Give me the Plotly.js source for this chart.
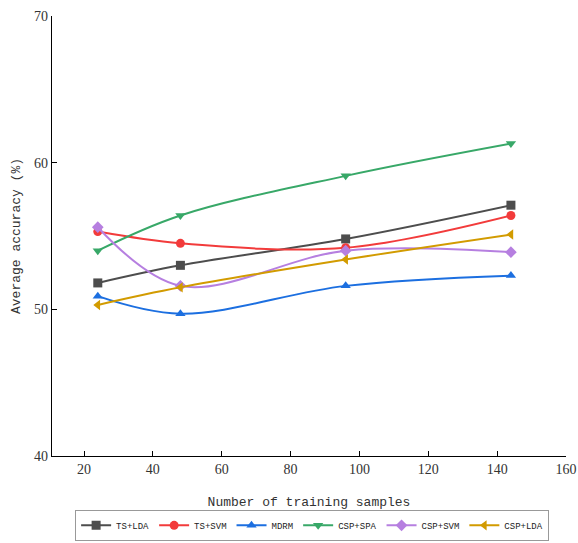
<!DOCTYPE html>
<html><head><meta charset="utf-8">
<script src="https://cdn.plot.ly/plotly-3.0.1.min.js"></script>
<style>body{margin:0;background:#fff}#c{width:578px;height:543px}</style>
</head><body><div id="c"></div>
<script>
var samples = [24, 48, 96, 144];
var tsLda  = [51.8, 53.0, 54.8, 57.1];
var tsSvm  = [55.3, 54.5, 54.2, 56.4];
var mdrm   = [50.9, 49.7, 51.6, 52.3];
var cspSpa = [54.0, 56.4, 59.1, 61.3];
var cspSvm = [55.6, 51.6, 54.0, 53.9];
var cspLda = [50.3, 51.5, 53.4, 55.1];
var names = ['TS+LDA','TS+SVM','MDRM','CSP+SPA','CSP+SVM','CSP+LDA'];
var series = [tsLda, tsSvm, mdrm, cspSpa, cspSvm, cspLda];
var colors = ['#4d4d4d','#f23b3b','#1c6fe0','#38a868','#b67fe0','#d29b00'];
var symbols = ['square','circle','triangle-up','triangle-down','diamond','triangle-left'];
var FM = 'Liberation Mono, Courier New, monospace';
var FS = 'Liberation Serif, Times New Roman, serif';
var traces = series.map(function(s,i){
  return {x: samples, y: s, name: names[i], type:'scatter', mode:'lines+markers',
    line:{color:colors[i], width:2, shape:'spline', smoothing:1},
    marker:{color:colors[i], symbol:symbols[i], size:9}};
});
var layout = {
  width:578, height:543, margin:{l:52, r:12, t:16, b:87},
  paper_bgcolor:'#fff', plot_bgcolor:'#fff',
  font:{family:FM, size:12, color:'#222'},
  showlegend:true,
  xaxis:{range:[10.7,160], tickvals:[20,40,60,80,100,120,140,160], ticks:'inside', ticklen:5,
    automargin:false,
    showgrid:false, zeroline:false, showline:true, linecolor:'#000', linewidth:1.3, tickcolor:'#000',
    tickfont:{family:FS, size:14, color:'#333'},
    title:{text:'Number of training samples', font:{family:FM, size:13, color:'#333'}, standoff:22}},
  yaxis:{range:[40,70], tickvals:[40,50,60,70], ticks:'inside', ticklen:5,
    automargin:false,
    showgrid:false, zeroline:false, showline:true, linecolor:'#000', linewidth:1.3, tickcolor:'#000',
    tickfont:{family:FS, size:14, color:'#333'},
    title:{text:'Average accuracy (%)', font:{family:FM, size:13, color:'#333'}, standoff:10}},
  legend:{orientation:'h', x:0.54, xanchor:'center', xref:'container', y:0.004, yref:'container', yanchor:'bottom',
    bordercolor:'#999', borderwidth:1, font:{family:FM, size:9, color:'#222'},
    itemwidth:30, tracegroupgap:0}
};
Plotly.newPlot('c', traces, layout, {displayModeBar:false});
</script></body></html>
